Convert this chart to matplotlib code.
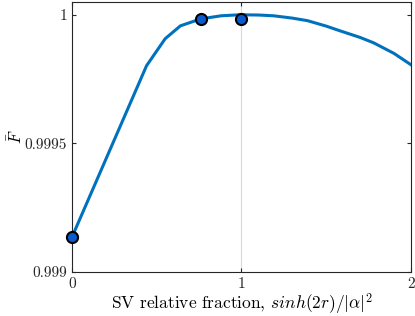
import matplotlib
matplotlib.use("Agg")
import matplotlib.pyplot as plt

plt.rcParams['font.family'] = 'serif'
plt.rcParams['font.serif'] = ['cmr10']
plt.rcParams['mathtext.fontset'] = 'cm'
plt.rcParams['axes.formatter.use_mathtext'] = True
plt.rcParams['font.size'] = 11

# fidelity curve
frac = [0.0, 0.44, 0.55, 0.64, 0.76, 0.88, 0.99, 1.1, 1.19, 1.3, 1.39, 1.5,
        1.58, 1.7, 1.78, 1.9, 2.0]
fid = [0.999136, 0.999802, 0.999907, 0.999957, 0.999984, 0.999996, 1.0,
       0.999999, 0.999996, 0.999987, 0.999977, 0.999956, 0.999938, 0.999912,
       0.999891, 0.999850, 0.999806]

# highlighted points
pt_frac = [0.0, 0.76, 1.0]
pt_fid = [0.999136, 0.999982, 0.999982]

fig = plt.figure(figsize=(4.15, 3.16), dpi=100)
ax = fig.add_axes([0.1735, 0.139, 0.8165, 0.855])

ax.axvline(1, color='#d9d9d9', lw=0.8, zorder=0)
ax.plot(frac, fid, color=(0, 0.447, 0.741), lw=2.2, zorder=2)
ax.plot(pt_frac, pt_fid, 'o', ms=8, mfc='#0a5ad0', mec='black', mew=1.5,
        zorder=3, clip_on=False)

ax.set_xlim(0, 2)
ax.set_ylim(0.999, 1.00005)
ax.set_xticks([0, 1, 2])
ax.set_xticklabels(['0', '1', '2'])
ax.set_yticks([0.999, 0.9995, 1.0])
ax.set_yticklabels(['0.999', '0.9995', '1'])
ax.tick_params(direction='in', top=True, right=True, length=3,
               colors='#262626', labelcolor='#262626', labelsize=11)
for s in ax.spines.values():
    s.set_color('#262626')
    s.set_linewidth(0.8)

ax.set_xlabel(r'SV relative fraction, $sinh(2r)/|\alpha|^2$', fontsize=12.5,
              labelpad=1)
ax.set_ylabel(r'$\bar{F}$', fontsize=12, labelpad=0)

fig.savefig('out.png', dpi=100)
